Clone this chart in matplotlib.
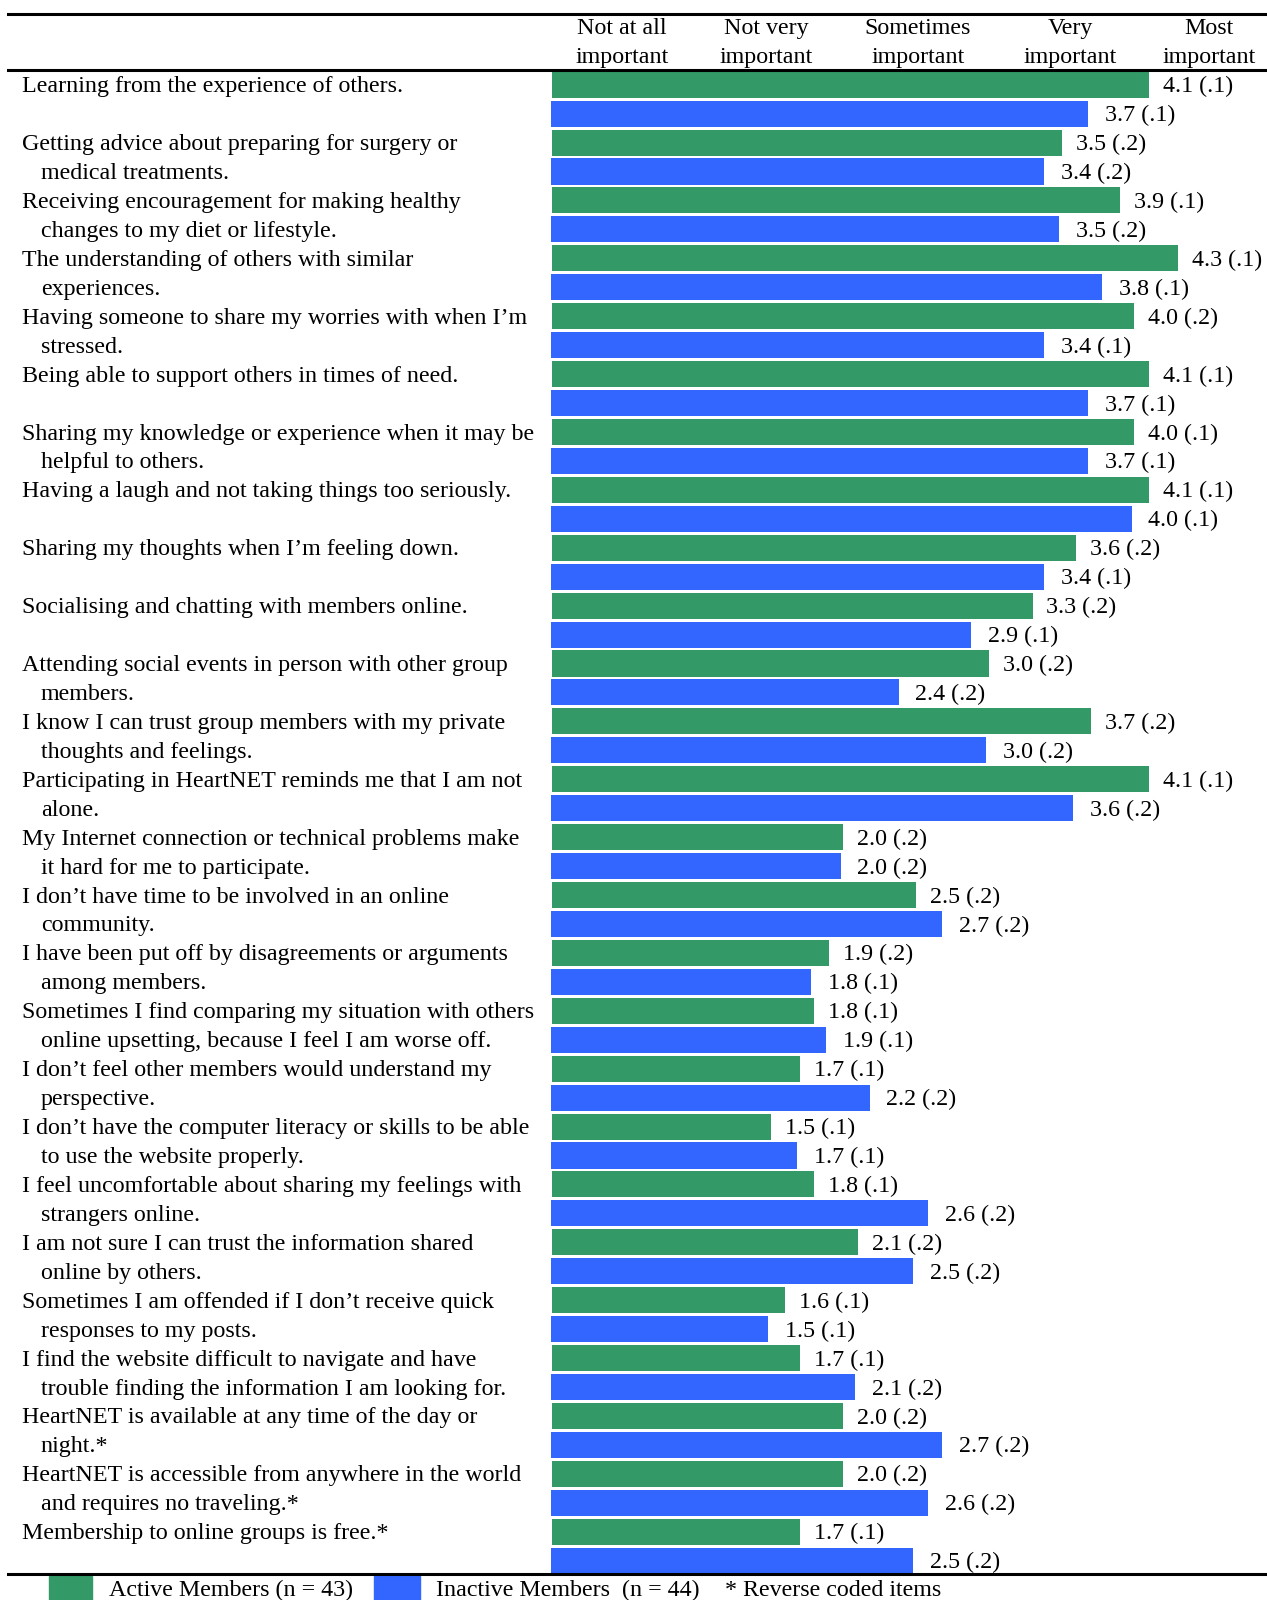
import matplotlib
matplotlib.use('Agg')
import matplotlib.pyplot as plt
from matplotlib.transforms import blended_transform_factory
from matplotlib.patches import Rectangle

plt.rcParams['font.family'] = ['Liberation Serif', 'DejaVu Serif']

# item text, one or two lines each
items = [
	["Learning from the experience of others."],
	["Getting advice about preparing for surgery or", "medical treatments."],
	["Receiving encouragement for making healthy", "changes to my diet or lifestyle."],
	["The understanding of others with similar", "experiences."],
	["Having someone to share my worries with when I\u2019m", "stressed."],
	["Being able to support others in times of need."],
	["Sharing my knowledge or experience when it may be", "helpful to others."],
	["Having a laugh and not taking things too seriously."],
	["Sharing my thoughts when I\u2019m feeling down."],
	["Socialising and chatting with members online."],
	["Attending social events in person with other group", "members."],
	["I know I can trust group members with my private", "thoughts and feelings."],
	["Participating in HeartNET reminds me that I am not", "alone."],
	["My Internet connection or technical problems make", "it hard for me to participate."],
	["I don\u2019t have time to be involved in an online", "community."],
	["I have been put off by disagreements or arguments", "among members."],
	["Sometimes I find comparing my situation with others", "online upsetting, because I feel I am worse off."],
	["I don\u2019t feel other members would understand my", "perspective."],
	["I don\u2019t have the computer literacy or skills to be able", "to use the website properly."],
	["I feel uncomfortable about sharing my feelings with", "strangers online."],
	["I am not sure I can trust the information shared", "online by others."],
	["Sometimes I am offended if I don\u2019t receive quick", "responses to my posts."],
	["I find the website difficult to navigate and have", "trouble finding the information I am looking for."],
	["HeartNET is available at any time of the day or", "night.*"],
	["HeartNET is accessible from anywhere in the world", "and requires no traveling.*"],
	["Membership to online groups is free.*"],
]

active_mean = [4.1, 3.5, 3.9, 4.3, 4.0, 4.1, 4.0, 4.1, 3.6, 3.3, 3.0, 3.7, 4.1,
			   2.0, 2.5, 1.9, 1.8, 1.7, 1.5, 1.8, 2.1, 1.6, 1.7, 2.0, 2.0, 1.7]
active_se = [".1", ".2", ".1", ".1", ".2", ".1", ".1", ".1", ".2", ".2", ".2", ".2", ".1",
			 ".2", ".2", ".2", ".1", ".1", ".1", ".1", ".2", ".1", ".1", ".2", ".2", ".1"]
inactive_mean = [3.7, 3.4, 3.5, 3.8, 3.4, 3.7, 3.7, 4.0, 3.4, 2.9, 2.4, 3.0, 3.6,
				 2.0, 2.7, 1.8, 1.9, 2.2, 1.7, 2.6, 2.5, 1.5, 2.1, 2.7, 2.6, 2.5]
inactive_se = [".1", ".2", ".2", ".1", ".1", ".1", ".1", ".1", ".1", ".1", ".2", ".2", ".2",
			   ".2", ".2", ".1", ".1", ".2", ".1", ".2", ".2", ".1", ".2", ".2", ".2", ".2"]

headers = ["Not at all\nimportant", "Not very\nimportant", "Sometimes\nimportant",
		   "Very\nimportant", "Most\nimportant"]
header_pos = [0.49, 1.48, 2.52, 3.57, 4.52]

green = '#339966'
blue = '#3366ff'
fs = 17.3

W, H = 1267, 1600
fig = plt.figure(figsize=(W / 100, H / 100), dpi=100)

# bars area: x from 551px to right edge, y from header rule to bottom rule
ax_top, ax_bot = 69.5, 1574
ax = fig.add_axes([551 / W, 1 - ax_bot / H, (W - 551) / W, (ax_bot - ax_top) / H])
unit = 145.5
ax.set_xlim(0, (W - 551) / unit)
pitch = 28.94
y0 = 84.7
ax.set_ylim((ax_bot - y0) / pitch, (ax_top - y0) / pitch)
ax.axis('off')

n = len(items)
ya = [2 * i for i in range(n)]
yi = [2 * i + 1 for i in range(n)]
ax.barh(ya, active_mean, height=0.9, color=green, left=0.01)
ax.barh(yi, inactive_mean, height=0.9, color=blue, left=-0.01)

dy = 0.07  # nudge text down a little
for i in range(n):
	ax.annotate("%.1f (%s)" % (active_mean[i], active_se[i]), (active_mean[i], ya[i] + dy),
				xytext=(11, 0), textcoords='offset points', va='center', fontsize=fs)
	ax.annotate("%.1f (%s)" % (inactive_mean[i], inactive_se[i]), (inactive_mean[i], yi[i] + dy),
				xytext=(11, 0), textcoords='offset points', va='center', fontsize=fs)

# item labels
tr = blended_transform_factory(fig.transFigure, ax.transData)
for i, lines in enumerate(items):
	fig.text(22.5 / W, ya[i] + dy, lines[0], transform=tr, va='center', ha='left', fontsize=fs)
	if len(lines) > 1:
		fig.text(40.8 / W, yi[i] + dy, lines[1], transform=tr, va='center', ha='left', fontsize=fs)

# header
trh = blended_transform_factory(ax.transData, fig.transFigure)
for pos, h in zip(header_pos, headers):
	fig.text(pos, 1 - 43 / H, h, transform=trh, ha='center', va='center',
			 fontsize=fs, linespacing=1.45)

# rules
for yy in [13.5, 69.5, 1574]:
	fig.add_artist(plt.Line2D([8 / W, 1], [1 - yy / H, 1 - yy / H], color='black', lw=2.2))

# legend row
fig.add_artist(Rectangle((49 / W, 0), 43 / W, 24 / H, color=green, transform=fig.transFigure))
fig.text(109 / W, 1 - 1590 / H, "Active Members (n = 43)", va='center', fontsize=fs)
fig.add_artist(Rectangle((374 / W, 0), 46 / W, 24 / H, color=blue, transform=fig.transFigure))
fig.text(436 / W, 1 - 1590 / H, "Inactive Members  (n = 44)", va='center', fontsize=fs)
fig.text(725 / W, 1 - 1590 / H, "* Reverse coded items", va='center', fontsize=fs)

fig.savefig('out.png', dpi=100)
